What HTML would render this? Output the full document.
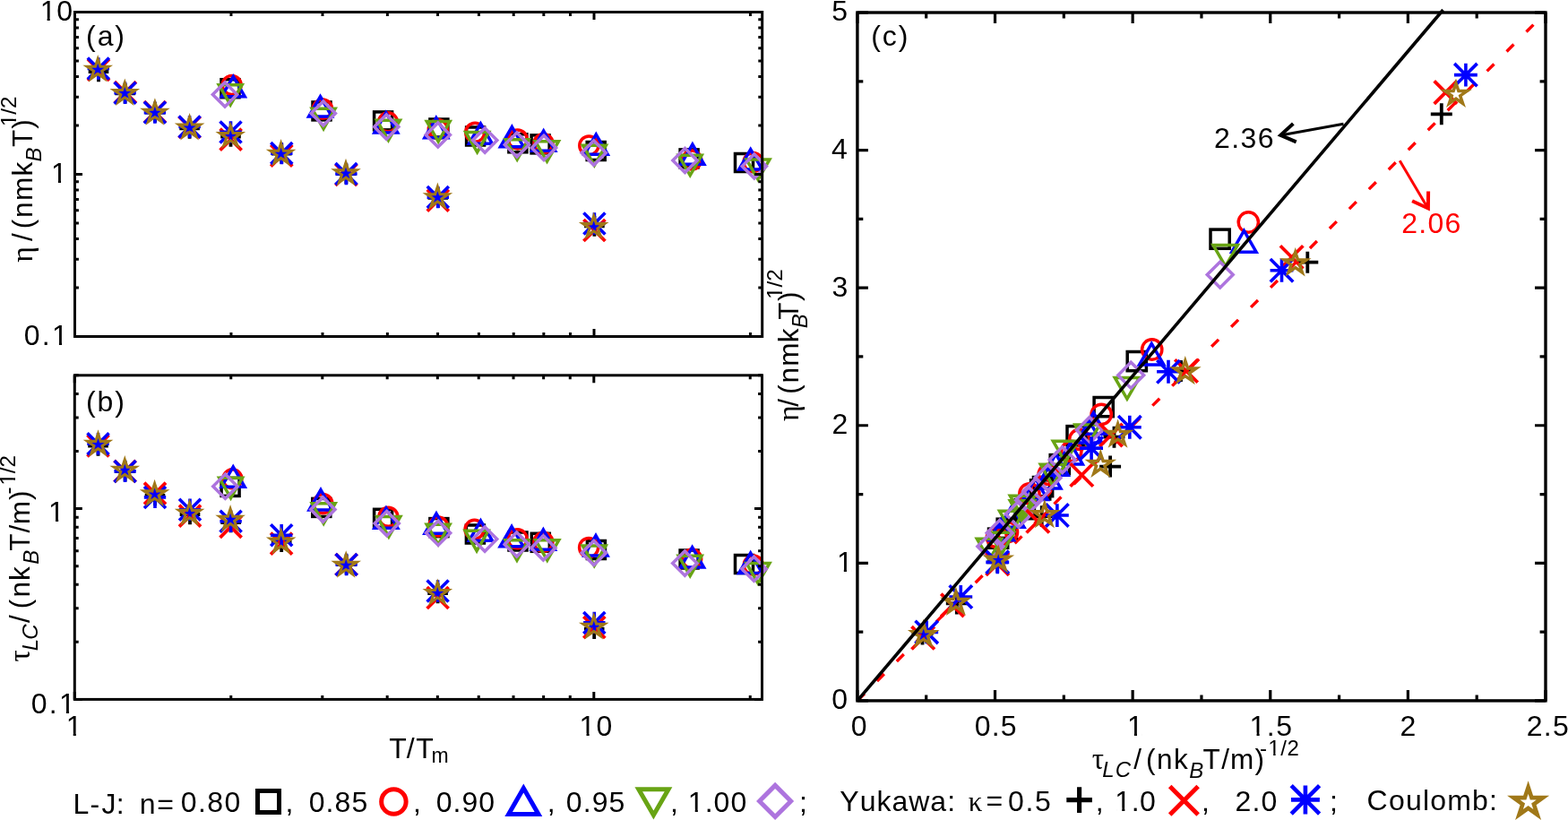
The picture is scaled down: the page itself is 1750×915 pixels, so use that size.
<!DOCTYPE html>
<html><head><meta charset="utf-8"><style>html,body{margin:0;padding:0;background:#fff;overflow:hidden}</style></head>
<body>
<svg width="1750" height="915" viewBox="0 0 1750 915" style="display:block">
<rect width="1750" height="915" fill="#fff"/>
<g font-family='"Liberation Sans", Arial, Helvetica, sans-serif'>
<rect x="247.00" y="88.70" width="20.00" height="20.00" fill="none" stroke="#000" stroke-width="3.5"/>
<rect x="349.00" y="113.90" width="20.00" height="20.00" fill="none" stroke="#000" stroke-width="3.5"/>
<rect x="417.60" y="124.90" width="20.00" height="20.00" fill="none" stroke="#000" stroke-width="3.5"/>
<rect x="479.90" y="133.00" width="20.00" height="20.00" fill="none" stroke="#000" stroke-width="3.5"/>
<rect x="520.60" y="142.00" width="20.00" height="20.00" fill="none" stroke="#000" stroke-width="3.5"/>
<rect x="567.90" y="149.80" width="20.00" height="20.00" fill="none" stroke="#000" stroke-width="3.5"/>
<rect x="593.10" y="150.90" width="20.00" height="20.00" fill="none" stroke="#000" stroke-width="3.5"/>
<rect x="655.20" y="158.50" width="20.00" height="20.00" fill="none" stroke="#000" stroke-width="3.5"/>
<rect x="759.10" y="166.90" width="20.00" height="20.00" fill="none" stroke="#000" stroke-width="3.5"/>
<rect x="820.50" y="171.50" width="20.00" height="20.00" fill="none" stroke="#000" stroke-width="3.5"/>
<circle cx="258.70" cy="94.90" r="10.50" fill="none" stroke="red" stroke-width="3.5"/>
<circle cx="360.00" cy="121.50" r="10.50" fill="none" stroke="red" stroke-width="3.5"/>
<circle cx="433.00" cy="136.30" r="10.50" fill="none" stroke="red" stroke-width="3.5"/>
<circle cx="488.80" cy="144.10" r="10.50" fill="none" stroke="red" stroke-width="3.5"/>
<circle cx="530.20" cy="147.70" r="10.50" fill="none" stroke="red" stroke-width="3.5"/>
<circle cx="577.70" cy="155.40" r="10.50" fill="none" stroke="red" stroke-width="3.5"/>
<circle cx="606.50" cy="160.00" r="10.50" fill="none" stroke="red" stroke-width="3.5"/>
<circle cx="657.30" cy="162.40" r="10.50" fill="none" stroke="red" stroke-width="3.5"/>
<circle cx="772.20" cy="178.50" r="10.50" fill="none" stroke="red" stroke-width="3.5"/>
<circle cx="840.50" cy="181.00" r="10.50" fill="none" stroke="red" stroke-width="3.5"/>
<path d="M260.30 85.40L273.20 107.75L247.40 107.75Z" fill="none" stroke="blue" stroke-width="3.5" stroke-linejoin="miter" stroke-miterlimit="10"/>
<path d="M357.50 107.70L370.40 130.05L344.60 130.05Z" fill="none" stroke="blue" stroke-width="3.5" stroke-linejoin="miter" stroke-miterlimit="10"/>
<path d="M430.80 125.70L443.70 148.05L417.90 148.05Z" fill="none" stroke="blue" stroke-width="3.5" stroke-linejoin="miter" stroke-miterlimit="10"/>
<path d="M486.80 131.40L499.70 153.75L473.90 153.75Z" fill="none" stroke="blue" stroke-width="3.5" stroke-linejoin="miter" stroke-miterlimit="10"/>
<path d="M536.40 137.90L549.30 160.25L523.50 160.25Z" fill="none" stroke="blue" stroke-width="3.5" stroke-linejoin="miter" stroke-miterlimit="10"/>
<path d="M571.40 141.50L584.30 163.85L558.50 163.85Z" fill="none" stroke="blue" stroke-width="3.5" stroke-linejoin="miter" stroke-miterlimit="10"/>
<path d="M606.70 146.00L619.60 168.35L593.80 168.35Z" fill="none" stroke="blue" stroke-width="3.5" stroke-linejoin="miter" stroke-miterlimit="10"/>
<path d="M665.30 150.00L678.20 172.35L652.40 172.35Z" fill="none" stroke="blue" stroke-width="3.5" stroke-linejoin="miter" stroke-miterlimit="10"/>
<path d="M772.90 161.00L785.80 183.35L760.00 183.35Z" fill="none" stroke="blue" stroke-width="3.5" stroke-linejoin="miter" stroke-miterlimit="10"/>
<path d="M837.70 166.70L850.60 189.05L824.80 189.05Z" fill="none" stroke="blue" stroke-width="3.5" stroke-linejoin="miter" stroke-miterlimit="10"/>
<path d="M257.20 117.00L270.10 94.65L244.30 94.65Z" fill="none" stroke="#68a414" stroke-width="3.5" stroke-linejoin="miter" stroke-miterlimit="10"/>
<path d="M361.10 143.70L374.00 121.35L348.20 121.35Z" fill="none" stroke="#68a414" stroke-width="3.5" stroke-linejoin="miter" stroke-miterlimit="10"/>
<path d="M433.50 156.50L446.40 134.15L420.60 134.15Z" fill="none" stroke="#68a414" stroke-width="3.5" stroke-linejoin="miter" stroke-miterlimit="10"/>
<path d="M489.20 157.90L502.10 135.55L476.30 135.55Z" fill="none" stroke="#68a414" stroke-width="3.5" stroke-linejoin="miter" stroke-miterlimit="10"/>
<path d="M532.60 169.80L545.50 147.45L519.70 147.45Z" fill="none" stroke="#68a414" stroke-width="3.5" stroke-linejoin="miter" stroke-miterlimit="10"/>
<path d="M577.20 178.00L590.10 155.65L564.30 155.65Z" fill="none" stroke="#68a414" stroke-width="3.5" stroke-linejoin="miter" stroke-miterlimit="10"/>
<path d="M610.50 180.10L623.40 157.75L597.60 157.75Z" fill="none" stroke="#68a414" stroke-width="3.5" stroke-linejoin="miter" stroke-miterlimit="10"/>
<path d="M663.40 184.50L676.30 162.15L650.50 162.15Z" fill="none" stroke="#68a414" stroke-width="3.5" stroke-linejoin="miter" stroke-miterlimit="10"/>
<path d="M770.20 195.60L783.10 173.25L757.30 173.25Z" fill="none" stroke="#68a414" stroke-width="3.5" stroke-linejoin="miter" stroke-miterlimit="10"/>
<path d="M846.00 200.30L858.90 177.95L833.10 177.95Z" fill="none" stroke="#68a414" stroke-width="3.5" stroke-linejoin="miter" stroke-miterlimit="10"/>
<path d="M251.00 91.90L264.60 105.50L251.00 119.10L237.40 105.50Z" fill="none" stroke="#ad74de" stroke-width="3.5" stroke-miterlimit="10"/>
<path d="M360.80 112.90L374.40 126.50L360.80 140.10L347.20 126.50Z" fill="none" stroke="#ad74de" stroke-width="3.5" stroke-miterlimit="10"/>
<path d="M431.30 128.00L444.90 141.60L431.30 155.20L417.70 141.60Z" fill="none" stroke="#ad74de" stroke-width="3.5" stroke-miterlimit="10"/>
<path d="M488.80 136.90L502.40 150.50L488.80 164.10L475.20 150.50Z" fill="none" stroke="#ad74de" stroke-width="3.5" stroke-miterlimit="10"/>
<path d="M541.20 143.00L554.80 156.60L541.20 170.20L527.60 156.60Z" fill="none" stroke="#ad74de" stroke-width="3.5" stroke-miterlimit="10"/>
<path d="M576.90 147.90L590.50 161.50L576.90 175.10L563.30 161.50Z" fill="none" stroke="#ad74de" stroke-width="3.5" stroke-miterlimit="10"/>
<path d="M607.00 151.30L620.60 164.90L607.00 178.50L593.40 164.90Z" fill="none" stroke="#ad74de" stroke-width="3.5" stroke-miterlimit="10"/>
<path d="M662.70 157.00L676.30 170.60L662.70 184.20L649.10 170.60Z" fill="none" stroke="#ad74de" stroke-width="3.5" stroke-miterlimit="10"/>
<path d="M764.50 165.40L778.10 179.00L764.50 192.60L750.90 179.00Z" fill="none" stroke="#ad74de" stroke-width="3.5" stroke-miterlimit="10"/>
<path d="M841.80 171.90L855.40 185.50L841.80 199.10L828.20 185.50Z" fill="none" stroke="#ad74de" stroke-width="3.5" stroke-miterlimit="10"/>
<path d="M98.70 80.00H121.30M110.00 68.70V91.30" stroke="#000" stroke-width="3.8" fill="none"/>
<path d="M128.30 104.30H150.90M139.60 93.00V115.60" stroke="#000" stroke-width="3.8" fill="none"/>
<path d="M161.70 125.50H184.30M173.00 114.20V136.80" stroke="#000" stroke-width="3.8" fill="none"/>
<path d="M200.30 143.40H222.90M211.60 132.10V154.70" stroke="#000" stroke-width="3.8" fill="none"/>
<path d="M246.20 152.50H268.80M257.50 141.20V163.80" stroke="#000" stroke-width="3.8" fill="none"/>
<path d="M303.00 171.50H325.60M314.30 160.20V182.80" stroke="#000" stroke-width="3.8" fill="none"/>
<path d="M375.10 194.00H397.70M386.40 182.70V205.30" stroke="#000" stroke-width="3.8" fill="none"/>
<path d="M477.50 220.80H500.10M488.80 209.50V232.10" stroke="#000" stroke-width="3.8" fill="none"/>
<path d="M652.10 252.40H674.70M663.40 241.10V263.70" stroke="#000" stroke-width="3.8" fill="none"/>
<path d="M98.00 66.00L122.00 90.00M98.00 90.00L122.00 66.00" stroke="red" stroke-width="3.8" fill="none"/>
<path d="M127.90 91.20L151.90 115.20M127.90 115.20L151.90 91.20" stroke="red" stroke-width="3.8" fill="none"/>
<path d="M161.00 113.00L185.00 137.00M161.00 137.00L185.00 113.00" stroke="red" stroke-width="3.8" fill="none"/>
<path d="M199.60 130.00L223.60 154.00M199.60 154.00L223.60 130.00" stroke="red" stroke-width="3.8" fill="none"/>
<path d="M245.60 143.60L269.60 167.60M245.60 167.60L269.60 143.60" stroke="red" stroke-width="3.8" fill="none"/>
<path d="M302.30 161.70L326.30 185.70M302.30 185.70L326.30 161.70" stroke="red" stroke-width="3.8" fill="none"/>
<path d="M374.40 183.00L398.40 207.00M374.40 207.00L398.40 183.00" stroke="red" stroke-width="3.8" fill="none"/>
<path d="M476.80 211.60L500.80 235.60M476.80 235.60L500.80 211.60" stroke="red" stroke-width="3.8" fill="none"/>
<path d="M651.40 245.00L675.40 269.00M651.40 269.00L675.40 245.00" stroke="red" stroke-width="3.8" fill="none"/>
<path d="M97.60 76.50H122.00M109.80 64.30V88.70M97.80 64.50L121.80 88.50M97.80 88.50L121.80 64.50" stroke="blue" stroke-width="3.6" fill="none"/>
<path d="M127.40 103.80H151.80M139.60 91.60V116.00M127.60 91.80L151.60 115.80M127.60 115.80L151.60 91.80" stroke="blue" stroke-width="3.6" fill="none"/>
<path d="M160.70 125.60H185.10M172.90 113.40V137.80M160.90 113.60L184.90 137.60M160.90 137.60L184.90 113.60" stroke="blue" stroke-width="3.6" fill="none"/>
<path d="M199.40 141.50H223.80M211.60 129.30V153.70M199.60 129.50L223.60 153.50M199.60 153.50L223.60 129.50" stroke="blue" stroke-width="3.6" fill="none"/>
<path d="M245.30 147.40H269.70M257.50 135.20V159.60M245.50 135.40L269.50 159.40M245.50 159.40L269.50 135.40" stroke="blue" stroke-width="3.6" fill="none"/>
<path d="M302.10 171.10H326.50M314.30 158.90V183.30M302.30 159.10L326.30 183.10M302.30 183.10L326.30 159.10" stroke="blue" stroke-width="3.6" fill="none"/>
<path d="M374.20 194.00H398.60M386.40 181.80V206.20M374.40 182.00L398.40 206.00M374.40 206.00L398.40 182.00" stroke="blue" stroke-width="3.6" fill="none"/>
<path d="M476.60 220.10H501.00M488.80 207.90V232.30M476.80 208.10L500.80 232.10M476.80 232.10L500.80 208.10" stroke="blue" stroke-width="3.6" fill="none"/>
<path d="M651.20 249.50H675.60M663.40 237.30V261.70M651.40 237.50L675.40 261.50M651.40 261.50L675.40 237.50" stroke="blue" stroke-width="3.6" fill="none"/>
<path d="M109.20 65.94L112.01 74.22L121.11 74.22L113.75 79.34L116.56 87.62L109.20 82.50L101.84 87.62L104.65 79.34L97.29 74.22L106.39 74.22Z" fill="none" stroke="#a07818" stroke-width="3.1" stroke-linejoin="miter" stroke-miterlimit="10"/>
<path d="M139.30 92.24L142.11 100.52L151.21 100.52L143.85 105.64L146.66 113.92L139.30 108.80L131.94 113.92L134.75 105.64L127.39 100.52L136.49 100.52Z" fill="none" stroke="#a07818" stroke-width="3.1" stroke-linejoin="miter" stroke-miterlimit="10"/>
<path d="M172.90 114.04L175.71 122.32L184.81 122.32L177.45 127.44L180.26 135.72L172.90 130.60L165.54 135.72L168.35 127.44L160.99 122.32L170.09 122.32Z" fill="none" stroke="#a07818" stroke-width="3.1" stroke-linejoin="miter" stroke-miterlimit="10"/>
<path d="M211.60 130.74L214.41 139.02L223.51 139.02L216.15 144.14L218.96 152.42L211.60 147.30L204.24 152.42L207.05 144.14L199.69 139.02L208.79 139.02Z" fill="none" stroke="#a07818" stroke-width="3.1" stroke-linejoin="miter" stroke-miterlimit="10"/>
<path d="M257.30 140.24L260.11 148.52L269.21 148.52L261.85 153.64L264.66 161.92L257.30 156.80L249.94 161.92L252.75 153.64L245.39 148.52L254.49 148.52Z" fill="none" stroke="#a07818" stroke-width="3.1" stroke-linejoin="miter" stroke-miterlimit="10"/>
<path d="M313.60 159.94L316.41 168.22L325.51 168.22L318.15 173.34L320.96 181.62L313.60 176.50L306.24 181.62L309.05 173.34L301.69 168.22L310.79 168.22Z" fill="none" stroke="#a07818" stroke-width="3.1" stroke-linejoin="miter" stroke-miterlimit="10"/>
<path d="M386.00 181.64L388.81 189.92L397.91 189.92L390.55 195.04L393.36 203.32L386.00 198.20L378.64 203.32L381.45 195.04L374.09 189.92L383.19 189.92Z" fill="none" stroke="#a07818" stroke-width="3.1" stroke-linejoin="miter" stroke-miterlimit="10"/>
<path d="M488.40 208.44L491.21 216.72L500.31 216.72L492.95 221.84L495.76 230.12L488.40 225.00L481.04 230.12L483.85 221.84L476.49 216.72L485.59 216.72Z" fill="none" stroke="#a07818" stroke-width="3.1" stroke-linejoin="miter" stroke-miterlimit="10"/>
<path d="M662.70 241.34L665.51 249.62L674.61 249.62L667.25 254.74L670.06 263.02L662.70 257.90L655.34 263.02L658.15 254.74L650.79 249.62L659.89 249.62Z" fill="none" stroke="#a07818" stroke-width="3.1" stroke-linejoin="miter" stroke-miterlimit="10"/>
<rect x="247.10" y="533.40" width="20.00" height="20.00" fill="none" stroke="#000" stroke-width="3.5"/>
<rect x="348.80" y="556.40" width="20.00" height="20.00" fill="none" stroke="#000" stroke-width="3.5"/>
<rect x="417.60" y="568.30" width="20.00" height="20.00" fill="none" stroke="#000" stroke-width="3.5"/>
<rect x="479.90" y="578.60" width="20.00" height="20.00" fill="none" stroke="#000" stroke-width="3.5"/>
<rect x="520.40" y="586.00" width="20.00" height="20.00" fill="none" stroke="#000" stroke-width="3.5"/>
<rect x="568.00" y="594.00" width="20.00" height="20.00" fill="none" stroke="#000" stroke-width="3.5"/>
<rect x="593.30" y="595.30" width="20.00" height="20.00" fill="none" stroke="#000" stroke-width="3.5"/>
<rect x="655.40" y="603.50" width="20.00" height="20.00" fill="none" stroke="#000" stroke-width="3.5"/>
<rect x="759.10" y="614.00" width="20.00" height="20.00" fill="none" stroke="#000" stroke-width="3.5"/>
<rect x="820.50" y="619.50" width="20.00" height="20.00" fill="none" stroke="#000" stroke-width="3.5"/>
<circle cx="259.40" cy="534.30" r="10.50" fill="none" stroke="red" stroke-width="3.5"/>
<circle cx="360.40" cy="562.00" r="10.50" fill="none" stroke="red" stroke-width="3.5"/>
<circle cx="433.40" cy="576.70" r="10.50" fill="none" stroke="red" stroke-width="3.5"/>
<circle cx="489.10" cy="587.40" r="10.50" fill="none" stroke="red" stroke-width="3.5"/>
<circle cx="529.50" cy="590.80" r="10.50" fill="none" stroke="red" stroke-width="3.5"/>
<circle cx="577.60" cy="601.30" r="10.50" fill="none" stroke="red" stroke-width="3.5"/>
<circle cx="606.40" cy="604.80" r="10.50" fill="none" stroke="red" stroke-width="3.5"/>
<circle cx="657.10" cy="611.00" r="10.50" fill="none" stroke="red" stroke-width="3.5"/>
<circle cx="772.20" cy="623.60" r="10.50" fill="none" stroke="red" stroke-width="3.5"/>
<circle cx="840.80" cy="630.50" r="10.50" fill="none" stroke="red" stroke-width="3.5"/>
<path d="M260.20 520.90L273.10 543.25L247.30 543.25Z" fill="none" stroke="blue" stroke-width="3.5" stroke-linejoin="miter" stroke-miterlimit="10"/>
<path d="M358.00 546.60L370.90 568.95L345.10 568.95Z" fill="none" stroke="blue" stroke-width="3.5" stroke-linejoin="miter" stroke-miterlimit="10"/>
<path d="M430.90 566.90L443.80 589.25L418.00 589.25Z" fill="none" stroke="blue" stroke-width="3.5" stroke-linejoin="miter" stroke-miterlimit="10"/>
<path d="M487.00 573.00L499.90 595.35L474.10 595.35Z" fill="none" stroke="blue" stroke-width="3.5" stroke-linejoin="miter" stroke-miterlimit="10"/>
<path d="M536.50 581.00L549.40 603.35L523.60 603.35Z" fill="none" stroke="blue" stroke-width="3.5" stroke-linejoin="miter" stroke-miterlimit="10"/>
<path d="M571.10 587.50L584.00 609.85L558.20 609.85Z" fill="none" stroke="blue" stroke-width="3.5" stroke-linejoin="miter" stroke-miterlimit="10"/>
<path d="M606.40 591.00L619.30 613.35L593.50 613.35Z" fill="none" stroke="blue" stroke-width="3.5" stroke-linejoin="miter" stroke-miterlimit="10"/>
<path d="M665.00 597.60L677.90 619.95L652.10 619.95Z" fill="none" stroke="blue" stroke-width="3.5" stroke-linejoin="miter" stroke-miterlimit="10"/>
<path d="M772.60 610.70L785.50 633.05L759.70 633.05Z" fill="none" stroke="blue" stroke-width="3.5" stroke-linejoin="miter" stroke-miterlimit="10"/>
<path d="M837.70 617.10L850.60 639.45L824.80 639.45Z" fill="none" stroke="blue" stroke-width="3.5" stroke-linejoin="miter" stroke-miterlimit="10"/>
<path d="M257.60 555.70L270.50 533.35L244.70 533.35Z" fill="none" stroke="#68a414" stroke-width="3.5" stroke-linejoin="miter" stroke-miterlimit="10"/>
<path d="M361.20 584.20L374.10 561.85L348.30 561.85Z" fill="none" stroke="#68a414" stroke-width="3.5" stroke-linejoin="miter" stroke-miterlimit="10"/>
<path d="M433.90 598.90L446.80 576.55L421.00 576.55Z" fill="none" stroke="#68a414" stroke-width="3.5" stroke-linejoin="miter" stroke-miterlimit="10"/>
<path d="M489.10 607.50L502.00 585.15L476.20 585.15Z" fill="none" stroke="#68a414" stroke-width="3.5" stroke-linejoin="miter" stroke-miterlimit="10"/>
<path d="M532.10 614.70L545.00 592.35L519.20 592.35Z" fill="none" stroke="#68a414" stroke-width="3.5" stroke-linejoin="miter" stroke-miterlimit="10"/>
<path d="M577.00 625.20L589.90 602.85L564.10 602.85Z" fill="none" stroke="#68a414" stroke-width="3.5" stroke-linejoin="miter" stroke-miterlimit="10"/>
<path d="M610.80 625.20L623.70 602.85L597.90 602.85Z" fill="none" stroke="#68a414" stroke-width="3.5" stroke-linejoin="miter" stroke-miterlimit="10"/>
<path d="M663.20 631.30L676.10 608.95L650.30 608.95Z" fill="none" stroke="#68a414" stroke-width="3.5" stroke-linejoin="miter" stroke-miterlimit="10"/>
<path d="M770.20 642.60L783.10 620.25L757.30 620.25Z" fill="none" stroke="#68a414" stroke-width="3.5" stroke-linejoin="miter" stroke-miterlimit="10"/>
<path d="M846.00 650.80L858.90 628.45L833.10 628.45Z" fill="none" stroke="#68a414" stroke-width="3.5" stroke-linejoin="miter" stroke-miterlimit="10"/>
<path d="M251.40 529.10L265.00 542.70L251.40 556.30L237.80 542.70Z" fill="none" stroke="#ad74de" stroke-width="3.5" stroke-miterlimit="10"/>
<path d="M360.40 555.00L374.00 568.60L360.40 582.20L346.80 568.60Z" fill="none" stroke="#ad74de" stroke-width="3.5" stroke-miterlimit="10"/>
<path d="M431.70 570.50L445.30 584.10L431.70 597.70L418.10 584.10Z" fill="none" stroke="#ad74de" stroke-width="3.5" stroke-miterlimit="10"/>
<path d="M489.10 581.20L502.70 594.80L489.10 608.40L475.50 594.80Z" fill="none" stroke="#ad74de" stroke-width="3.5" stroke-miterlimit="10"/>
<path d="M541.10 588.00L554.70 601.60L541.10 615.20L527.50 601.60Z" fill="none" stroke="#ad74de" stroke-width="3.5" stroke-miterlimit="10"/>
<path d="M576.70 593.90L590.30 607.50L576.70 621.10L563.10 607.50Z" fill="none" stroke="#ad74de" stroke-width="3.5" stroke-miterlimit="10"/>
<path d="M606.40 597.80L620.00 611.40L606.40 625.00L592.80 611.40Z" fill="none" stroke="#ad74de" stroke-width="3.5" stroke-miterlimit="10"/>
<path d="M662.80 603.40L676.40 617.00L662.80 630.60L649.20 617.00Z" fill="none" stroke="#ad74de" stroke-width="3.5" stroke-miterlimit="10"/>
<path d="M764.30 615.00L777.90 628.60L764.30 642.20L750.70 628.60Z" fill="none" stroke="#ad74de" stroke-width="3.5" stroke-miterlimit="10"/>
<path d="M841.50 621.20L855.10 634.80L841.50 648.40L827.90 634.80Z" fill="none" stroke="#ad74de" stroke-width="3.5" stroke-miterlimit="10"/>
<path d="M98.20 497.50H120.80M109.50 486.20V508.80" stroke="#000" stroke-width="3.8" fill="none"/>
<path d="M128.30 526.00H150.90M139.60 514.70V537.30" stroke="#000" stroke-width="3.8" fill="none"/>
<path d="M161.70 553.00H184.30M173.00 541.70V564.30" stroke="#000" stroke-width="3.8" fill="none"/>
<path d="M200.70 574.00H223.30M212.00 562.70V585.30" stroke="#000" stroke-width="3.8" fill="none"/>
<path d="M246.30 583.00H268.90M257.60 571.70V594.30" stroke="#000" stroke-width="3.8" fill="none"/>
<path d="M302.90 604.60H325.50M314.20 593.30V615.90" stroke="#000" stroke-width="3.8" fill="none"/>
<path d="M375.30 630.00H397.90M386.60 618.70V641.30" stroke="#000" stroke-width="3.8" fill="none"/>
<path d="M477.30 662.00H499.90M488.60 650.70V673.30" stroke="#000" stroke-width="3.8" fill="none"/>
<path d="M651.90 701.70H674.50M663.20 690.40V713.00" stroke="#000" stroke-width="3.8" fill="none"/>
<path d="M97.50 485.50L121.50 509.50M97.50 509.50L121.50 485.50" stroke="red" stroke-width="3.8" fill="none"/>
<path d="M127.60 513.90L151.60 537.90M127.60 537.90L151.60 513.90" stroke="red" stroke-width="3.8" fill="none"/>
<path d="M161.00 538.60L185.00 562.60M161.00 562.60L185.00 538.60" stroke="red" stroke-width="3.8" fill="none"/>
<path d="M200.00 563.60L224.00 587.60M200.00 587.60L224.00 563.60" stroke="red" stroke-width="3.8" fill="none"/>
<path d="M245.60 575.80L269.60 599.80M245.60 599.80L269.60 575.80" stroke="red" stroke-width="3.8" fill="none"/>
<path d="M302.10 594.60L326.10 618.60M302.10 618.60L326.10 594.60" stroke="red" stroke-width="3.8" fill="none"/>
<path d="M374.60 618.00L398.60 642.00M374.60 642.00L398.60 618.00" stroke="red" stroke-width="3.8" fill="none"/>
<path d="M476.60 655.00L500.60 679.00M476.60 679.00L500.60 655.00" stroke="red" stroke-width="3.8" fill="none"/>
<path d="M651.30 688.00L675.30 712.00M651.30 712.00L675.30 688.00" stroke="red" stroke-width="3.8" fill="none"/>
<path d="M97.30 495.20H121.70M109.50 483.00V507.40M97.50 483.20L121.50 507.20M97.50 507.20L121.50 483.20" stroke="blue" stroke-width="3.6" fill="none"/>
<path d="M127.40 525.90H151.80M139.60 513.70V538.10M127.60 513.90L151.60 537.90M127.60 537.90L151.60 513.90" stroke="blue" stroke-width="3.6" fill="none"/>
<path d="M160.80 554.90H185.20M173.00 542.70V567.10M161.00 542.90L185.00 566.90M161.00 566.90L185.00 542.90" stroke="blue" stroke-width="3.6" fill="none"/>
<path d="M199.80 568.80H224.20M212.00 556.60V581.00M200.00 556.80L224.00 580.80M200.00 580.80L224.00 556.80" stroke="blue" stroke-width="3.6" fill="none"/>
<path d="M245.40 581.70H269.80M257.60 569.50V593.90M245.60 569.70L269.60 593.70M245.60 593.70L269.60 569.70" stroke="blue" stroke-width="3.6" fill="none"/>
<path d="M302.00 597.20H326.40M314.20 585.00V609.40M302.20 585.20L326.20 609.20M302.20 609.20L326.20 585.20" stroke="blue" stroke-width="3.6" fill="none"/>
<path d="M374.40 630.00H398.80M386.60 617.80V642.20M374.60 618.00L398.60 642.00M374.60 642.00L398.60 618.00" stroke="blue" stroke-width="3.6" fill="none"/>
<path d="M476.40 659.50H500.80M488.60 647.30V671.70M476.60 647.50L500.60 671.50M476.60 671.50L500.60 647.50" stroke="blue" stroke-width="3.6" fill="none"/>
<path d="M651.10 694.90H675.50M663.30 682.70V707.10M651.30 682.90L675.30 706.90M651.30 706.90L675.30 682.90" stroke="blue" stroke-width="3.6" fill="none"/>
<path d="M109.50 484.14L112.31 492.42L121.41 492.42L114.05 497.54L116.86 505.82L109.50 500.70L102.14 505.82L104.95 497.54L97.59 492.42L106.69 492.42Z" fill="none" stroke="#a07818" stroke-width="3.1" stroke-linejoin="miter" stroke-miterlimit="10"/>
<path d="M139.30 512.94L142.11 521.22L151.21 521.22L143.85 526.34L146.66 534.62L139.30 529.50L131.94 534.62L134.75 526.34L127.39 521.22L136.49 521.22Z" fill="none" stroke="#a07818" stroke-width="3.1" stroke-linejoin="miter" stroke-miterlimit="10"/>
<path d="M172.60 539.64L175.41 547.92L184.51 547.92L177.15 553.04L179.96 561.32L172.60 556.20L165.24 561.32L168.05 553.04L160.69 547.92L169.79 547.92Z" fill="none" stroke="#a07818" stroke-width="3.1" stroke-linejoin="miter" stroke-miterlimit="10"/>
<path d="M211.60 561.14L214.41 569.42L223.51 569.42L216.15 574.54L218.96 582.82L211.60 577.70L204.24 582.82L207.05 574.54L199.69 569.42L208.79 569.42Z" fill="none" stroke="#a07818" stroke-width="3.1" stroke-linejoin="miter" stroke-miterlimit="10"/>
<path d="M257.10 567.94L259.91 576.22L269.01 576.22L261.65 581.34L264.46 589.62L257.10 584.50L249.74 589.62L252.55 581.34L245.19 576.22L254.29 576.22Z" fill="none" stroke="#a07818" stroke-width="3.1" stroke-linejoin="miter" stroke-miterlimit="10"/>
<path d="M313.70 592.84L316.51 601.12L325.61 601.12L318.25 606.24L321.06 614.52L313.70 609.40L306.34 614.52L309.15 606.24L301.79 601.12L310.89 601.12Z" fill="none" stroke="#a07818" stroke-width="3.1" stroke-linejoin="miter" stroke-miterlimit="10"/>
<path d="M386.20 619.04L389.01 627.32L398.11 627.32L390.75 632.44L393.56 640.72L386.20 635.60L378.84 640.72L381.65 632.44L374.29 627.32L383.39 627.32Z" fill="none" stroke="#a07818" stroke-width="3.1" stroke-linejoin="miter" stroke-miterlimit="10"/>
<path d="M488.30 650.24L491.11 658.52L500.21 658.52L492.85 663.64L495.66 671.92L488.30 666.80L480.94 671.92L483.75 663.64L476.39 658.52L485.49 658.52Z" fill="none" stroke="#a07818" stroke-width="3.1" stroke-linejoin="miter" stroke-miterlimit="10"/>
<path d="M662.80 687.94L665.61 696.22L674.71 696.22L667.35 701.34L670.16 709.62L662.80 704.50L655.44 709.62L658.25 701.34L650.89 696.22L659.99 696.22Z" fill="none" stroke="#a07818" stroke-width="3.1" stroke-linejoin="miter" stroke-miterlimit="10"/>
<path d="M956.9 781.9L1725 14" stroke="red" stroke-width="3.4" stroke-dasharray="11.2 19.85" fill="none"/>
<rect x="1351.00" y="256.10" width="21.20" height="21.20" fill="none" stroke="#000" stroke-width="3.5"/>
<rect x="1258.20" y="392.50" width="21.20" height="21.20" fill="none" stroke="#000" stroke-width="3.5"/>
<rect x="1221.10" y="443.50" width="21.20" height="21.20" fill="none" stroke="#000" stroke-width="3.5"/>
<rect x="1191.01" y="475.59" width="21.20" height="21.20" fill="none" stroke="#000" stroke-width="3.5"/>
<rect x="1172.18" y="507.58" width="21.20" height="21.20" fill="none" stroke="#000" stroke-width="3.5"/>
<rect x="1153.45" y="532.49" width="21.20" height="21.20" fill="none" stroke="#000" stroke-width="3.5"/>
<rect x="1150.56" y="535.81" width="21.20" height="21.20" fill="none" stroke="#000" stroke-width="3.5"/>
<rect x="1133.22" y="557.51" width="21.20" height="21.20" fill="none" stroke="#000" stroke-width="3.5"/>
<rect x="1113.15" y="579.18" width="21.20" height="21.20" fill="none" stroke="#000" stroke-width="3.5"/>
<rect x="1103.51" y="590.10" width="21.20" height="21.20" fill="none" stroke="#000" stroke-width="3.5"/>
<circle cx="1393.30" cy="248.00" r="11.13" fill="none" stroke="red" stroke-width="3.5"/>
<circle cx="1285.70" cy="390.00" r="11.13" fill="none" stroke="red" stroke-width="3.5"/>
<circle cx="1229.20" cy="462.30" r="11.13" fill="none" stroke="red" stroke-width="3.5"/>
<circle cx="1204.80" cy="490.30" r="11.13" fill="none" stroke="red" stroke-width="3.5"/>
<circle cx="1195.85" cy="503.35" r="11.13" fill="none" stroke="red" stroke-width="3.5"/>
<circle cx="1170.19" cy="529.34" r="11.13" fill="none" stroke="red" stroke-width="3.5"/>
<circle cx="1162.27" cy="543.70" r="11.13" fill="none" stroke="red" stroke-width="3.5"/>
<circle cx="1148.94" cy="550.86" r="11.13" fill="none" stroke="red" stroke-width="3.5"/>
<circle cx="1124.47" cy="593.65" r="11.13" fill="none" stroke="red" stroke-width="3.5"/>
<circle cx="1112.42" cy="599.54" r="11.13" fill="none" stroke="red" stroke-width="3.5"/>
<path d="M1388.40 257.48L1402.07 281.17L1374.73 281.17Z" fill="none" stroke="blue" stroke-width="3.5" stroke-linejoin="miter" stroke-miterlimit="10"/>
<path d="M1285.20 383.38L1298.87 407.07L1271.53 407.07Z" fill="none" stroke="blue" stroke-width="3.5" stroke-linejoin="miter" stroke-miterlimit="10"/>
<path d="M1220.50 460.58L1234.17 484.27L1206.83 484.27Z" fill="none" stroke="blue" stroke-width="3.5" stroke-linejoin="miter" stroke-miterlimit="10"/>
<path d="M1216.05 470.34L1229.72 494.03L1202.37 494.03Z" fill="none" stroke="blue" stroke-width="3.5" stroke-linejoin="miter" stroke-miterlimit="10"/>
<path d="M1194.56 494.20L1208.24 517.89L1180.89 517.89Z" fill="none" stroke="blue" stroke-width="3.5" stroke-linejoin="miter" stroke-miterlimit="10"/>
<path d="M1178.42 506.59L1192.10 530.28L1164.75 530.28Z" fill="none" stroke="blue" stroke-width="3.5" stroke-linejoin="miter" stroke-miterlimit="10"/>
<path d="M1170.19 521.30L1183.87 544.99L1156.52 544.99Z" fill="none" stroke="blue" stroke-width="3.5" stroke-linejoin="miter" stroke-miterlimit="10"/>
<path d="M1155.49 533.69L1169.17 557.38L1141.82 557.38Z" fill="none" stroke="blue" stroke-width="3.5" stroke-linejoin="miter" stroke-miterlimit="10"/>
<path d="M1129.25 564.68L1142.93 588.37L1115.58 588.37Z" fill="none" stroke="blue" stroke-width="3.5" stroke-linejoin="miter" stroke-miterlimit="10"/>
<path d="M1117.72 579.11L1131.40 602.80L1104.05 602.80Z" fill="none" stroke="blue" stroke-width="3.5" stroke-linejoin="miter" stroke-miterlimit="10"/>
<path d="M1367.70 297.22L1381.37 273.53L1354.03 273.53Z" fill="none" stroke="#68a414" stroke-width="3.5" stroke-linejoin="miter" stroke-miterlimit="10"/>
<path d="M1257.90 445.12L1271.57 421.43L1244.23 421.43Z" fill="none" stroke="#68a414" stroke-width="3.5" stroke-linejoin="miter" stroke-miterlimit="10"/>
<path d="M1213.60 497.62L1227.27 473.93L1199.93 473.93Z" fill="none" stroke="#68a414" stroke-width="3.5" stroke-linejoin="miter" stroke-miterlimit="10"/>
<path d="M1189.00 515.92L1202.67 492.23L1175.33 492.23Z" fill="none" stroke="#68a414" stroke-width="3.5" stroke-linejoin="miter" stroke-miterlimit="10"/>
<path d="M1175.00 541.92L1188.67 518.23L1161.33 518.23Z" fill="none" stroke="#68a414" stroke-width="3.5" stroke-linejoin="miter" stroke-miterlimit="10"/>
<path d="M1141.01 576.84L1154.68 553.15L1127.34 553.15Z" fill="none" stroke="#68a414" stroke-width="3.5" stroke-linejoin="miter" stroke-miterlimit="10"/>
<path d="M1141.01 582.54L1154.68 558.85L1127.34 558.85Z" fill="none" stroke="#68a414" stroke-width="3.5" stroke-linejoin="miter" stroke-miterlimit="10"/>
<path d="M1129.25 593.98L1142.93 570.29L1115.58 570.29Z" fill="none" stroke="#68a414" stroke-width="3.5" stroke-linejoin="miter" stroke-miterlimit="10"/>
<path d="M1118.00 617.92L1131.67 594.23L1104.33 594.23Z" fill="none" stroke="#68a414" stroke-width="3.5" stroke-linejoin="miter" stroke-miterlimit="10"/>
<path d="M1104.00 624.92L1117.67 601.23L1090.33 601.23Z" fill="none" stroke="#68a414" stroke-width="3.5" stroke-linejoin="miter" stroke-miterlimit="10"/>
<path d="M1361.70 292.18L1376.12 306.60L1361.70 321.02L1347.28 306.60Z" fill="none" stroke="#ad74de" stroke-width="3.5" stroke-miterlimit="10"/>
<path d="M1262.20 404.28L1276.62 418.70L1262.20 433.12L1247.78 418.70Z" fill="none" stroke="#ad74de" stroke-width="3.5" stroke-miterlimit="10"/>
<path d="M1216.00 465.58L1230.42 480.00L1216.00 494.42L1201.58 480.00Z" fill="none" stroke="#ad74de" stroke-width="3.5" stroke-miterlimit="10"/>
<path d="M1185.73 498.68L1200.15 513.10L1185.73 527.52L1171.32 513.10Z" fill="none" stroke="#ad74de" stroke-width="3.5" stroke-miterlimit="10"/>
<path d="M1169.50 518.75L1183.92 533.17L1169.50 547.59L1155.09 533.17Z" fill="none" stroke="#ad74de" stroke-width="3.5" stroke-miterlimit="10"/>
<path d="M1156.35 533.79L1170.77 548.20L1156.35 562.62L1141.94 548.20Z" fill="none" stroke="#ad74de" stroke-width="3.5" stroke-miterlimit="10"/>
<path d="M1148.11 543.68L1162.53 558.09L1148.11 572.51L1133.70 558.09Z" fill="none" stroke="#ad74de" stroke-width="3.5" stroke-miterlimit="10"/>
<path d="M1136.87 559.33L1151.29 573.75L1136.87 588.16L1122.46 573.75Z" fill="none" stroke="#ad74de" stroke-width="3.5" stroke-miterlimit="10"/>
<path d="M1115.65 580.43L1130.06 594.84L1115.65 609.26L1101.23 594.84Z" fill="none" stroke="#ad74de" stroke-width="3.5" stroke-miterlimit="10"/>
<path d="M1105.35 595.27L1119.76 609.69L1105.35 624.11L1090.93 609.69Z" fill="none" stroke="#ad74de" stroke-width="3.5" stroke-miterlimit="10"/>
<path d="M1596.82 127.30H1620.78M1608.80 115.32V139.28" stroke="#000" stroke-width="3.8" fill="none"/>
<path d="M1447.32 292.70H1471.28M1459.30 280.72V304.68" stroke="#000" stroke-width="3.8" fill="none"/>
<path d="M1306.02 414.00H1329.98M1318.00 402.02V425.98" stroke="#000" stroke-width="3.8" fill="none"/>
<path d="M1231.50 487.69H1255.46M1243.48 475.71V499.67" stroke="#000" stroke-width="3.8" fill="none"/>
<path d="M1227.12 520.60H1251.08M1239.10 508.62V532.58" stroke="#000" stroke-width="3.8" fill="none"/>
<path d="M1150.73 576.12H1174.69M1162.71 564.14V588.10" stroke="#000" stroke-width="3.8" fill="none"/>
<path d="M1101.28 627.34H1125.24M1113.26 615.36V639.32" stroke="#000" stroke-width="3.8" fill="none"/>
<path d="M1055.82 673.40H1079.78M1067.80 661.42V685.38" stroke="#000" stroke-width="3.8" fill="none"/>
<path d="M1017.52 707.40H1041.48M1029.50 695.42V719.38" stroke="#000" stroke-width="3.8" fill="none"/>
<path d="M1600.68 90.38L1626.12 115.82M1600.68 115.82L1626.12 90.38" stroke="red" stroke-width="3.8" fill="none"/>
<path d="M1428.88 274.28L1454.32 299.72M1428.88 299.72L1454.32 274.28" stroke="red" stroke-width="3.8" fill="none"/>
<path d="M1311.28 401.28L1336.72 426.72M1311.28 426.72L1336.72 401.28" stroke="red" stroke-width="3.8" fill="none"/>
<path d="M1227.28 472.78L1252.72 498.22M1227.28 498.22L1252.72 472.78" stroke="red" stroke-width="3.8" fill="none"/>
<path d="M1194.58 517.28L1220.02 542.72M1194.58 542.72L1220.02 517.28" stroke="red" stroke-width="3.8" fill="none"/>
<path d="M1145.59 569.08L1171.03 594.52M1145.59 594.52L1171.03 569.08" stroke="red" stroke-width="3.8" fill="none"/>
<path d="M1100.54 616.57L1125.98 642.01M1100.54 642.01L1125.98 616.57" stroke="red" stroke-width="3.8" fill="none"/>
<path d="M1050.28 662.68L1075.72 688.12M1050.28 688.12L1075.72 662.68" stroke="red" stroke-width="3.8" fill="none"/>
<path d="M1017.48 699.08L1042.92 724.52M1017.48 724.52L1042.92 699.08" stroke="red" stroke-width="3.8" fill="none"/>
<path d="M1622.97 83.60H1648.83M1635.90 70.67V96.53M1623.18 70.88L1648.62 96.32M1623.18 96.32L1648.62 70.88" stroke="blue" stroke-width="3.6" fill="none"/>
<path d="M1417.57 301.80H1443.43M1430.50 288.87V314.73M1417.78 289.08L1443.22 314.52M1417.78 314.52L1443.22 289.08" stroke="blue" stroke-width="3.6" fill="none"/>
<path d="M1291.07 414.80H1316.93M1304.00 401.87V427.73M1291.28 402.08L1316.72 427.52M1291.28 427.52L1316.72 402.08" stroke="blue" stroke-width="3.6" fill="none"/>
<path d="M1247.87 476.70H1273.73M1260.80 463.77V489.63M1248.08 463.98L1273.52 489.42M1248.08 489.42L1273.52 463.98" stroke="blue" stroke-width="3.6" fill="none"/>
<path d="M1205.17 500.10H1231.03M1218.10 487.17V513.03M1205.38 487.38L1230.82 512.82M1205.38 512.82L1230.82 487.38" stroke="blue" stroke-width="3.6" fill="none"/>
<path d="M1166.93 575.07H1192.80M1179.87 562.14V588.00M1167.15 562.35L1192.59 587.79M1167.15 587.79L1192.59 562.35" stroke="blue" stroke-width="3.6" fill="none"/>
<path d="M1100.33 627.34H1126.19M1113.26 614.41V640.27M1100.54 614.62L1125.98 640.06M1100.54 640.06L1125.98 614.62" stroke="blue" stroke-width="3.6" fill="none"/>
<path d="M1059.37 666.00H1085.23M1072.30 653.07V678.93M1059.58 653.28L1085.02 678.72M1059.58 678.72L1085.02 653.28" stroke="blue" stroke-width="3.6" fill="none"/>
<path d="M1021.27 705.40H1047.13M1034.20 692.47V718.33M1021.48 692.68L1046.92 718.12M1021.48 718.12L1046.92 692.68" stroke="blue" stroke-width="3.6" fill="none"/>
<path d="M1625.00 93.06L1627.90 101.60L1637.28 101.60L1629.69 106.88L1632.59 115.42L1625.00 110.14L1617.41 115.42L1620.31 106.88L1612.72 101.60L1622.10 101.60Z" fill="none" stroke="#a07818" stroke-width="3.5" stroke-linejoin="miter" stroke-miterlimit="10"/>
<path d="M1445.70 281.56L1448.60 290.10L1457.98 290.10L1450.39 295.38L1453.29 303.92L1445.70 298.64L1438.11 303.92L1441.01 295.38L1433.42 290.10L1442.80 290.10Z" fill="none" stroke="#a07818" stroke-width="3.5" stroke-linejoin="miter" stroke-miterlimit="10"/>
<path d="M1322.80 402.46L1325.70 411.00L1335.08 411.00L1327.49 416.28L1330.39 424.82L1322.80 419.54L1315.21 424.82L1318.11 416.28L1310.52 411.00L1319.90 411.00Z" fill="none" stroke="#a07818" stroke-width="3.5" stroke-linejoin="miter" stroke-miterlimit="10"/>
<path d="M1247.60 472.96L1250.50 481.50L1259.88 481.50L1252.29 486.78L1255.19 495.32L1247.60 490.04L1240.01 495.32L1242.91 486.78L1235.32 481.50L1244.70 481.50Z" fill="none" stroke="#a07818" stroke-width="3.5" stroke-linejoin="miter" stroke-miterlimit="10"/>
<path d="M1228.30 506.06L1231.20 514.60L1240.58 514.60L1232.99 519.88L1235.89 528.42L1228.30 523.14L1220.71 528.42L1223.61 519.88L1216.02 514.60L1225.40 514.60Z" fill="none" stroke="#a07818" stroke-width="3.5" stroke-linejoin="miter" stroke-miterlimit="10"/>
<path d="M1165.85 562.32L1168.75 570.86L1178.13 570.86L1170.54 576.13L1173.44 584.67L1165.85 579.39L1158.26 584.67L1161.16 576.13L1153.57 570.86L1162.95 570.86Z" fill="none" stroke="#a07818" stroke-width="3.5" stroke-linejoin="miter" stroke-miterlimit="10"/>
<path d="M1114.28 612.72L1117.18 621.26L1126.56 621.26L1118.97 626.54L1121.87 635.07L1114.28 629.80L1106.69 635.07L1109.59 626.54L1102.00 621.26L1111.38 621.26Z" fill="none" stroke="#a07818" stroke-width="3.5" stroke-linejoin="miter" stroke-miterlimit="10"/>
<path d="M1066.90 660.06L1069.80 668.60L1079.18 668.60L1071.59 673.88L1074.49 682.42L1066.90 677.14L1059.31 682.42L1062.21 673.88L1054.62 668.60L1064.00 668.60Z" fill="none" stroke="#a07818" stroke-width="3.5" stroke-linejoin="miter" stroke-miterlimit="10"/>
<path d="M1030.70 696.26L1033.60 704.80L1042.98 704.80L1035.39 710.08L1038.29 718.62L1030.70 713.34L1023.11 718.62L1026.01 710.08L1018.42 704.80L1027.80 704.80Z" fill="none" stroke="#a07818" stroke-width="3.5" stroke-linejoin="miter" stroke-miterlimit="10"/>
<path d="M956.9 781.9L1610.6 11" stroke="#000" stroke-width="3.6" fill="none"/>
<path d="M83.50 375.5v-8.5M83.50 13.5v8.5M663.00 375.5v-8.5M663.00 13.5v8.5M257.95 375.5v-4.4M257.95 13.5v4.4M359.99 375.5v-4.4M359.99 13.5v4.4M432.39 375.5v-4.4M432.39 13.5v4.4M488.55 375.5v-4.4M488.55 13.5v4.4M534.44 375.5v-4.4M534.44 13.5v4.4M573.23 375.5v-4.4M573.23 13.5v4.4M606.84 375.5v-4.4M606.84 13.5v4.4M636.48 375.5v-4.4M636.48 13.5v4.4M837.45 375.5v-4.4M837.45 13.5v4.4M83.5 375.50h8.5M850.7 375.50h-8.5M83.5 194.50h8.5M850.7 194.50h-8.5M83.5 13.50h8.5M850.7 13.50h-8.5M83.5 321.01h4.4M850.7 321.01h-4.4M83.5 289.14h4.4M850.7 289.14h-4.4M83.5 266.53h4.4M850.7 266.53h-4.4M83.5 248.99h4.4M850.7 248.99h-4.4M83.5 234.65h4.4M850.7 234.65h-4.4M83.5 222.54h4.4M850.7 222.54h-4.4M83.5 212.04h4.4M850.7 212.04h-4.4M83.5 202.78h4.4M850.7 202.78h-4.4M83.5 140.01h4.4M850.7 140.01h-4.4M83.5 108.14h4.4M850.7 108.14h-4.4M83.5 85.53h4.4M850.7 85.53h-4.4M83.5 67.99h4.4M850.7 67.99h-4.4M83.5 53.65h4.4M850.7 53.65h-4.4M83.5 41.54h4.4M850.7 41.54h-4.4M83.5 31.04h4.4M850.7 31.04h-4.4M83.5 21.78h4.4M850.7 21.78h-4.4" stroke="#000" stroke-width="3" fill="none"/>
<path d="M83.30 780.4v-8.5M83.30 418.8v8.5M662.80 780.4v-8.5M662.80 418.8v8.5M257.75 780.4v-4.4M257.75 418.8v4.4M359.79 780.4v-4.4M359.79 418.8v4.4M432.19 780.4v-4.4M432.19 418.8v4.4M488.35 780.4v-4.4M488.35 418.8v4.4M534.24 780.4v-4.4M534.24 418.8v4.4M573.03 780.4v-4.4M573.03 418.8v4.4M606.64 780.4v-4.4M606.64 418.8v4.4M636.28 780.4v-4.4M636.28 418.8v4.4M837.25 780.4v-4.4M837.25 418.8v4.4M83.3 780.40h8.5M850.5 780.40h-8.5M83.3 567.57h8.5M850.5 567.57h-8.5M83.3 716.33h4.4M850.5 716.33h-4.4M83.3 678.85h4.4M850.5 678.85h-4.4M83.3 652.26h4.4M850.5 652.26h-4.4M83.3 631.63h4.4M850.5 631.63h-4.4M83.3 614.78h4.4M850.5 614.78h-4.4M83.3 600.53h4.4M850.5 600.53h-4.4M83.3 588.19h4.4M850.5 588.19h-4.4M83.3 577.30h4.4M850.5 577.30h-4.4M83.3 503.50h4.4M850.5 503.50h-4.4M83.3 466.02h4.4M850.5 466.02h-4.4M83.3 439.43h4.4M850.5 439.43h-4.4M83.3 418.80h4.4M850.5 418.80h-4.4" stroke="#000" stroke-width="3" fill="none"/>
<rect x="83.5" y="13.5" width="767.20" height="362.00" fill="none" stroke="#000" stroke-width="3"/>
<rect x="83.3" y="418.8" width="767.20" height="361.60" fill="none" stroke="#000" stroke-width="3"/>
<path d="M956.90 781.9v-12M956.90 14.0v12M1033.71 781.9v-6.4M1033.71 14.0v6.4M1110.52 781.9v-12M1110.52 14.0v12M1187.33 781.9v-6.4M1187.33 14.0v6.4M1264.14 781.9v-12M1264.14 14.0v12M1340.95 781.9v-6.4M1340.95 14.0v6.4M1417.76 781.9v-12M1417.76 14.0v12M1494.57 781.9v-6.4M1494.57 14.0v6.4M1571.38 781.9v-12M1571.38 14.0v12M1648.19 781.9v-6.4M1648.19 14.0v6.4M1725.00 781.9v-12M1725.00 14.0v12M956.9 781.90h12M1725.0 781.90h-12M956.9 705.11h6.4M1725.0 705.11h-6.4M956.9 628.32h12M1725.0 628.32h-12M956.9 551.53h6.4M1725.0 551.53h-6.4M956.9 474.74h12M1725.0 474.74h-12M956.9 397.95h6.4M1725.0 397.95h-6.4M956.9 321.16h12M1725.0 321.16h-12M956.9 244.37h6.4M1725.0 244.37h-6.4M956.9 167.58h12M1725.0 167.58h-12M956.9 90.79h6.4M1725.0 90.79h-6.4M956.9 14.00h12M1725.0 14.00h-12" stroke="#000" stroke-width="3.2" fill="none"/>
<rect x="956.9" y="14.0" width="768.10" height="767.90" fill="none" stroke="#000" stroke-width="3.4"/>
<text x="44.72 63.35" y="22.8" font-size="32" font-family="Liberation Sans, Arial, sans-serif" fill="#000">10</text><path d="M46.46 19.81H52.62V23.70H46.46ZM55.75 19.81H61.66V23.70H55.75Z" fill="#fff"/>
<text x="57.02" y="203.6" font-size="32" font-family="Liberation Sans, Arial, sans-serif" fill="#000">1</text><path d="M58.76 200.61H64.92V204.50H58.76ZM68.05 200.61H73.96V204.50H68.05Z" fill="#fff"/>
<text x="26.75 46.84 58.03" y="384.9" font-size="32" font-family="Liberation Sans, Arial, sans-serif" fill="#000">0.1</text><path d="M59.76 381.91H65.92V385.80H59.76ZM69.05 381.91H74.96V385.80H69.05Z" fill="#fff"/>
<text x="54.12" y="581.6" font-size="32" font-family="Liberation Sans, Arial, sans-serif" fill="#000">1</text><path d="M55.86 578.61H62.02V582.50H55.86ZM65.15 578.61H71.06V582.50H65.15Z" fill="#fff"/>
<text x="34.75 54.84 66.03" y="795.9" font-size="32" font-family="Liberation Sans, Arial, sans-serif" fill="#000">0.1</text><path d="M67.76 792.91H73.92V796.80H67.76ZM77.05 792.91H82.96V796.80H77.05Z" fill="#fff"/>
<text x="73.82" y="820.8" font-size="32" font-family="Liberation Sans, Arial, sans-serif" fill="#000">1</text><path d="M75.56 817.81H81.72V821.70H75.56ZM84.85 817.81H90.76V821.70H84.85Z" fill="#fff"/>
<text x="646.62 665.45" y="821.0" font-size="32" font-family="Liberation Sans, Arial, sans-serif" fill="#000">10</text><path d="M648.36 818.01H654.52V821.90H648.36ZM657.65 818.01H663.56V821.90H657.65Z" fill="#fff"/>
<text x="928.25" y="791.3" font-size="32" font-family="Liberation Sans, Arial, sans-serif" fill="#000">0</text>
<text x="933.92" y="637.7" font-size="32" font-family="Liberation Sans, Arial, sans-serif" fill="#000">1</text><path d="M935.66 634.71H941.82V638.60H935.66ZM944.95 634.71H950.86V638.60H944.95Z" fill="#fff"/>
<text x="928.61" y="484.1" font-size="32" font-family="Liberation Sans, Arial, sans-serif" fill="#000">2</text>
<text x="928.41" y="330.6" font-size="32" font-family="Liberation Sans, Arial, sans-serif" fill="#000">3</text>
<text x="927.94" y="177.0" font-size="32" font-family="Liberation Sans, Arial, sans-serif" fill="#000">4</text>
<text x="928.35" y="23.4" font-size="32" font-family="Liberation Sans, Arial, sans-serif" fill="#000">5</text>
<text x="949.75" y="820.6" font-size="32" font-family="Liberation Sans, Arial, sans-serif" fill="#000">0</text>
<text x="1087.85 1106.80 1116.85" y="820.6" font-size="32" font-family="Liberation Sans, Arial, sans-serif" fill="#000">0.5</text>
<text x="1257.96" y="820.6" font-size="32" font-family="Liberation Sans, Arial, sans-serif" fill="#000">1</text><path d="M1259.70 817.61H1265.86V821.50H1259.70ZM1268.99 817.61H1274.90V821.50H1268.99Z" fill="#fff"/>
<text x="1394.62 1413.84 1424.15" y="820.6" font-size="32" font-family="Liberation Sans, Arial, sans-serif" fill="#000">1.5</text><path d="M1396.36 817.61H1402.52V821.50H1396.36ZM1405.65 817.61H1411.56V821.50H1405.65Z" fill="#fff"/>
<text x="1562.48" y="820.6" font-size="32" font-family="Liberation Sans, Arial, sans-serif" fill="#000">2</text>
<text x="1703.79 1722.79 1732.88" y="820.6" font-size="32" font-family="Liberation Sans, Arial, sans-serif" fill="#000">2.5</text>
<text x="96.12 108.65 128.33" y="51.0" font-size="32" font-family="Liberation Sans, Arial, sans-serif" fill="#000">(a)</text>
<text x="96.02 108.60 128.33" y="458.8" font-size="32" font-family="Liberation Sans, Arial, sans-serif" fill="#000">(b)</text>
<text x="972.22 984.80 1002.73" y="50.8" font-size="32" font-family="Liberation Sans, Arial, sans-serif" fill="#000">(c)</text>
<text x="434.18 453.73 464.18" y="845.9" font-size="32" font-family="Liberation Sans, Arial, sans-serif" fill="#000">T/T</text>
<text x="481.57" y="850.7" font-size="23" font-family="Liberation Sans, Arial, sans-serif" fill="#000">m</text>
<text x="1218.87" y="857.5" font-size="33" font-family="Liberation Serif, Times New Roman, serif" fill="#000">τ</text>
<text x="1230.16 1244.68" y="866.6" font-size="24" font-family="Liberation Sans, Arial, sans-serif" font-style="italic" fill="#000">LC</text>
<text x="1265.20 1279.05 1290.91 1310.08" y="858.0" font-size="31.5" font-family="Liberation Sans, Arial, sans-serif" fill="#000">/(nk</text>
<text x="1327.26" y="867.6" font-size="24" font-family="Liberation Sans, Arial, sans-serif" font-style="italic" fill="#000">B</text>
<text x="1342.49 1363.20 1373.11 1400.62" y="858.0" font-size="31.5" font-family="Liberation Sans, Arial, sans-serif" fill="#000">T/m)</text>
<text x="1405.93 1415.29 1429.24 1436.51" y="842.8" font-size="24" font-family="Liberation Sans, Arial, sans-serif" fill="#000">-1/2</text><path d="M1416.42 840.41H1421.18V843.70H1416.42ZM1423.60 840.41H1428.17V843.70H1423.60Z" fill="#fff"/>
<g transform="translate(35.5 0) rotate(-90)">
<text x="-141.11 -127.76 -121.09" y="-18.0" font-size="24" font-family="Liberation Sans, Arial, sans-serif" fill="#000">1/2</text><path d="M-139.98 -20.39H-135.22V-17.10H-139.98ZM-132.80 -20.39H-128.23V-17.10H-132.80Z" fill="#fff"/>
<text x="-292.63" y="0" font-size="34" font-family="Liberation Serif, Times New Roman, serif" fill="#000">η</text>
<text x="-269.10 -255.35 -243.09 -223.99 -196.52" y="0" font-size="31.5" font-family="Liberation Sans, Arial, sans-serif" fill="#000">/(nmk</text>
<text x="-180.54" y="10.4" font-size="24" font-family="Liberation Sans, Arial, sans-serif" font-style="italic" fill="#000">B</text>
<text x="-164.11 -143.68" y="0" font-size="31.5" font-family="Liberation Sans, Arial, sans-serif" fill="#000">T)</text>
</g>
<g transform="translate(32.9 0) rotate(-90)">
<text x="-551.57 -541.61 -528.26 -521.59" y="-15.9" font-size="24" font-family="Liberation Sans, Arial, sans-serif" fill="#000">-1/2</text><path d="M-540.48 -18.29H-535.72V-15.00H-540.48ZM-533.30 -18.29H-528.73V-15.00H-533.30Z" fill="#fff"/>
<text x="-738.53" y="0" font-size="33" font-family="Liberation Serif, Times New Roman, serif" fill="#000">τ</text>
<text x="-726.24 -713.82" y="8.8" font-size="24" font-family="Liberation Sans, Arial, sans-serif" font-style="italic" fill="#000">LC</text>
<text x="-694.90 -679.25 -666.39 -648.12" y="0" font-size="31.5" font-family="Liberation Sans, Arial, sans-serif" fill="#000">/(nk</text>
<text x="-629.84" y="9.9" font-size="24" font-family="Liberation Sans, Arial, sans-serif" font-style="italic" fill="#000">B</text>
<text x="-614.71 -594.40 -585.29 -557.88" y="0" font-size="31.5" font-family="Liberation Sans, Arial, sans-serif" fill="#000">T/m)</text>
</g>
<g transform="translate(890.5 0) rotate(-90)">
<text x="-333.81 -320.46 -313.79" y="-17.5" font-size="24" font-family="Liberation Sans, Arial, sans-serif" fill="#000">1/2</text><path d="M-332.68 -19.89H-327.92V-16.60H-332.68ZM-325.50 -19.89H-320.93V-16.60H-325.50Z" fill="#fff"/>
<text x="-470.03" y="0" font-size="34" font-family="Liberation Serif, Times New Roman, serif" fill="#000">η</text>
<text x="-453.70 -439.75 -427.39 -408.79 -382.32" y="0" font-size="31.5" font-family="Liberation Sans, Arial, sans-serif" fill="#000">/(nmk</text>
<text x="-366.14" y="10.4" font-size="24" font-family="Liberation Sans, Arial, sans-serif" font-style="italic" fill="#000">B</text>
<text x="-356.81 -336.08" y="0" font-size="31.5" font-family="Liberation Sans, Arial, sans-serif" fill="#000">T)</text>
</g>
<text x="1354.89 1374.17 1384.53 1403.81" y="164.8" font-size="32" font-family="Liberation Sans, Arial, sans-serif" fill="#000">2.36</text>
<path d="M1499.5 138.2L1429 151" stroke="#000" stroke-width="3.1" fill="none"/>
<path d="M1443.3 138L1429.2 150.8L1446.7 158.3" stroke="#000" stroke-width="4" fill="none" stroke-linejoin="miter"/>
<text x="1564.19 1583.30 1593.50 1612.61" y="260.4" font-size="32" font-family="Liberation Sans, Arial, sans-serif" fill="red">2.06</text>
<path d="M1562.2 179.2L1593.6 232.3" stroke="red" stroke-width="3" fill="none"/>
<path d="M1576.1 224.3L1593.9 232.5L1594.1 213.5" stroke="red" stroke-width="4" fill="none"/>
<text x="81.47 100.48 113.40 129.78" y="907.8" font-size="32" font-family="Liberation Sans, Arial, sans-serif" fill="#000">L-J:</text>
<text x="155.78 175.14" y="907.8" font-size="32" font-family="Liberation Sans, Arial, sans-serif" fill="#000">n=</text>
<text x="201.75 220.95 231.25 250.45" y="905.7" font-size="32" font-family="Liberation Sans, Arial, sans-serif" fill="#000">0.80</text>
<text x="344.75 363.62 373.58 392.45" y="905.7" font-size="32" font-family="Liberation Sans, Arial, sans-serif" fill="#000">0.85</text>
<text x="486.75 505.59 515.52 534.35" y="905.7" font-size="32" font-family="Liberation Sans, Arial, sans-serif" fill="#000">0.90</text>
<text x="631.85 650.72 660.68 679.55" y="905.7" font-size="32" font-family="Liberation Sans, Arial, sans-serif" fill="#000">0.95</text>
<text x="767.82 786.67 796.61 815.45" y="905.7" font-size="32" font-family="Liberation Sans, Arial, sans-serif" fill="#000">1.00</text><path d="M769.56 902.71H775.72V906.60H769.56ZM778.85 902.71H784.76V906.60H778.85Z" fill="#fff"/>
<text x="318.52" y="905.7" font-size="32" font-family="Liberation Sans, Arial, sans-serif" fill="#000">,</text>
<text x="461.12" y="905.7" font-size="32" font-family="Liberation Sans, Arial, sans-serif" fill="#000">,</text>
<text x="610.83" y="905.7" font-size="32" font-family="Liberation Sans, Arial, sans-serif" fill="#000">,</text>
<text x="748.02" y="905.7" font-size="32" font-family="Liberation Sans, Arial, sans-serif" fill="#000">,</text>
<text x="892.02" y="905.7" font-size="32" font-family="Liberation Sans, Arial, sans-serif" fill="#000">;</text>
<text x="937.30 959.64 978.43 995.43 1014.23 1038.34 1057.13" y="904.8" font-size="32" font-family="Liberation Sans, Arial, sans-serif" fill="#000">Yukawa:</text>
<text x="1080.81" y="904.8" font-size="31" font-family="Liberation Serif, Times New Roman, serif" fill="#000">κ</text>
<text x="1100.44" y="903.6" font-size="32" font-family="Liberation Sans, Arial, sans-serif" fill="#000">=</text>
<text x="1125.05 1144.45 1154.95" y="904.5" font-size="32" font-family="Liberation Sans, Arial, sans-serif" fill="#000">0.5</text>
<text x="1244.32 1262.64 1272.05" y="904.5" font-size="32" font-family="Liberation Sans, Arial, sans-serif" fill="#000">1.0</text><path d="M1246.06 901.51H1252.22V905.40H1246.06ZM1255.35 901.51H1261.26V905.40H1255.35Z" fill="#fff"/>
<text x="1378.39 1397.38 1407.45" y="904.5" font-size="32" font-family="Liberation Sans, Arial, sans-serif" fill="#000">2.0</text>
<text x="1222.83" y="904.5" font-size="32" font-family="Liberation Sans, Arial, sans-serif" fill="#000">,</text>
<text x="1341.12" y="904.5" font-size="32" font-family="Liberation Sans, Arial, sans-serif" fill="#000">,</text>
<text x="1484.12" y="904.5" font-size="32" font-family="Liberation Sans, Arial, sans-serif" fill="#000">;</text>
<text x="1525.58 1549.88 1568.88 1587.88 1596.18 1615.18 1643.04 1662.03" y="904.0" font-size="32" font-family="Liberation Sans, Arial, sans-serif" fill="#000">Coulomb:</text>
<rect x="287.5" y="882.5" width="24" height="24" fill="none" stroke="#000" stroke-width="5.0"/>
<circle cx="439.4" cy="894.5" r="13.75" fill="none" stroke="red" stroke-width="5.0"/>
<path d="M584.30 879.61L600.94 908.44L567.66 908.44Z" fill="none" stroke="blue" stroke-width="5.0" stroke-linejoin="miter" stroke-miterlimit="10"/>
<path d="M729.40 909.59L746.04 880.76L712.76 880.76Z" fill="none" stroke="#68a414" stroke-width="5.0" stroke-linejoin="miter" stroke-miterlimit="10"/>
<path d="M865.10 876.36L882.64 893.90L865.10 911.44L847.56 893.90Z" fill="none" stroke="#ad74de" stroke-width="5.0" stroke-miterlimit="10"/>
<path d="M1190.31 892.60H1218.89M1204.60 878.31V906.89" stroke="#000" stroke-width="5.1" fill="none"/>
<path d="M1305.68 877.58L1337.12 909.02M1305.68 909.02L1337.12 877.58" stroke="red" stroke-width="5.0" fill="none"/>
<path d="M1440.92 892.40H1472.88M1456.90 876.42V908.38M1441.18 876.68L1472.62 908.12M1441.18 908.12L1472.62 876.68" stroke="blue" stroke-width="4.6" fill="none"/>
<path d="M1705.60 878.46L1709.46 890.11L1721.95 890.11L1711.85 897.31L1715.71 908.96L1705.60 901.76L1695.49 908.96L1699.35 897.31L1689.25 890.11L1701.74 890.11Z" fill="none" stroke="#a07818" stroke-width="4.6" stroke-linejoin="miter" stroke-miterlimit="10"/>
</g></svg>
</body></html>
